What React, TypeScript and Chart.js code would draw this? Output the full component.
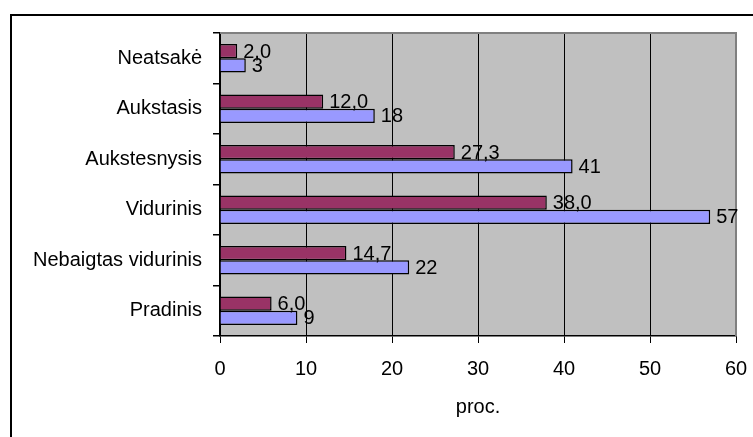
import React, { useEffect, useRef } from "react";
import { Chart, registerables } from "chart.js";

Chart.register(...registerables);

const categories = ["Neatsakė", "Aukstasis", "Aukstesnysis", "Vidurinis", "Nebaigtas vidurinis", "Pradinis"];
const seriesPercent = [2.0, 12.0, 27.3, 38.0, 14.7, 6.0];
const seriesCount = [3, 18, 41, 57, 22, 9];
const xTicks = [0, 10, 20, 30, 40, 50, 60];
const xTitle = "proc.";

const FONT = "'Liberation Sans', Arial, sans-serif";
const FS = 20;

const framePlugin = {
  id: "frame",
  beforeDraw(chart: any) {
    const ctx = chart.ctx;
    const a = chart.chartArea;
    ctx.save();
    ctx.fillStyle = "#ffffff";
    ctx.fillRect(0, 0, chart.width, chart.height);
    ctx.strokeStyle = "#000";
    ctx.lineWidth = 2;
    ctx.strokeRect(11, 15, chart.width + 20, chart.height + 20);
    ctx.fillStyle = "#C0C0C0";
    ctx.fillRect(a.left, a.top, a.right - a.left, a.bottom - a.top);
    ctx.restore();
  },
  afterDatasetsDraw(chart: any) {
    const ctx = chart.ctx;
    const a = chart.chartArea;
    ctx.save();
    ctx.strokeStyle = "#808080";
    ctx.lineWidth = 2;
    ctx.beginPath();
    ctx.moveTo(a.left, a.top);
    ctx.lineTo(a.right, a.top);
    ctx.lineTo(a.right, a.bottom);
    ctx.stroke();
    ctx.font = `${FS}px ${FONT}`;
    ctx.fillStyle = "#000";
    ctx.textAlign = "left";
    ctx.textBaseline = "middle";
    chart.data.datasets.forEach((ds: any, di: number) => {
      const meta = chart.getDatasetMeta(di);
      meta.data.forEach((el: any, i: number) => {
        const v = ds.data[i];
        const txt = di === 0 ? v.toFixed(1).replace(".", ",") : String(v);
        ctx.fillText(txt, el.x + 6, el.y + 1);
      });
    });
    ctx.restore();
  },
};

export default function App() {
  const ref = useRef<HTMLCanvasElement>(null);
  useEffect(() => {
    document.body.style.margin = "0";
    const chart = new Chart(ref.current!, {
      type: "bar",
      data: {
        labels: categories,
        datasets: [
          {
            label: "proc.",
            data: seriesPercent,
            backgroundColor: "#993366",
            borderColor: "#000",
            borderWidth: 1.5,
            categoryPercentage: 0.56,
            barPercentage: 1,
          },
          {
            label: "sk.",
            data: seriesCount,
            backgroundColor: "#9999FF",
            borderColor: "#000",
            borderWidth: 1.5,
            categoryPercentage: 0.56,
            barPercentage: 1,
          },
        ],
      },
      options: {
        indexAxis: "y",
        animation: false,
        responsive: false,
        layout: { padding: { left: 0, top: 33, right: 0, bottom: 18 } },
        plugins: { legend: { display: false }, tooltip: { enabled: false } },
        scales: {
          x: {
            min: 0,
            max: 60,
            afterBuildTicks: (s: any) => {
              s.ticks = xTicks.map((v) => ({ value: v }));
            },
            afterFit: (s: any) => {
              s.height = 83;
              s.paddingRight = 17;
            },
            grid: { color: "#000", lineWidth: 1, tickLength: 7, tickColor: "#000" },
            border: { color: "#000", width: 1.5 },
            ticks: { color: "#000", font: { family: FONT, size: FS }, padding: 14 },
            title: { display: true, text: xTitle, color: "#000", font: { family: FONT, size: FS }, padding: { top: 0, bottom: 0 } },
          },
          y: {
            afterFit: (s: any) => {
              s.width = 220;
            },
            grid: { drawOnChartArea: false, tickLength: 7, tickColor: "#000", lineWidth: 1.5 },
            border: { color: "#000", width: 1.5 },
            ticks: { color: "#000", font: { family: FONT, size: FS }, padding: 11 },
          },
        },
      },
      plugins: [framePlugin],
    });
    return () => chart.destroy();
  }, []);
  return (
    <div style={{ width: 753, height: 437 }}>
      <canvas ref={ref} width={753} height={437} style={{ display: "block" }} />
    </div>
  );
}
